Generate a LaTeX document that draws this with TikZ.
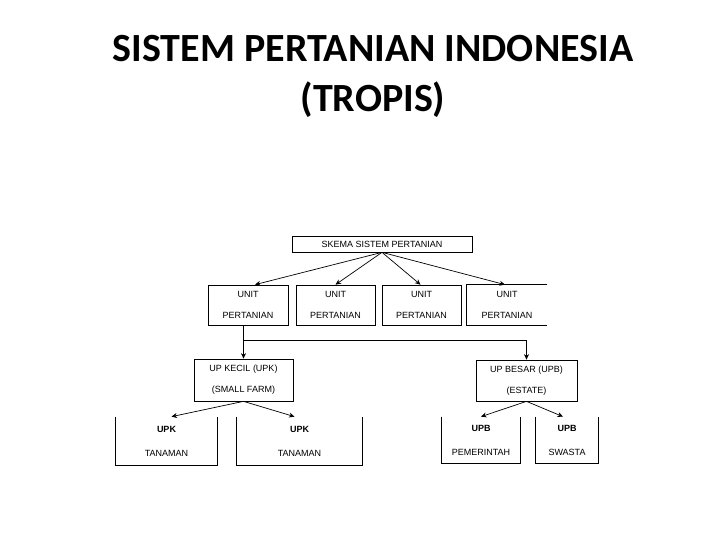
\documentclass[tikz,border=0pt]{standalone}
\usepackage{fontspec}
\setmainfont{Liberation Sans}
\newfontfamily\titlefont{Carlito}
\usetikzlibrary{calc,arrows.meta}
\begin{document}
\begin{tikzpicture}[x=1pt,y=-1pt,
  line width=0.7pt,
  txt/.style={inner sep=0pt, align=center, font=\fontsize{9}{21}\selectfont},
  box/.style={txt, draw},
  lowbox/.style={txt, font=\fontsize{9}{24}\selectfont, minimum height=48pt},
  arr/.style={-{Stealth[length=5.5pt,width=5pt]}},
  ttl/.style={inner sep=0pt, anchor=base, font=\titlefont\bfseries\fontsize{40}{48}\selectfont}]
\useasboundingbox (0,0) rectangle (720,540);
\fill[white] (0,0) rectangle (720,540);

% title
\node[ttl] (t1) at (373,62) {SISTEM PERTANIAN INDONESIA};
\node[ttl] (t2) at (373,112) {(TROPIS)};

% top box
\node[box, minimum width=180pt, minimum height=16pt] (skema) at (382,244) {SKEMA SISTEM PERTANIAN};

% second row
\node[box, minimum width=80pt, minimum height=40pt] (u1) at (248,305) {UNIT\\PERTANIAN};
\node[box, minimum width=79pt, minimum height=40pt] (u2) at (335.5,305) {UNIT\\PERTANIAN};
\node[box, minimum width=79pt, minimum height=40pt] (u3) at (421.5,305) {UNIT\\PERTANIAN};
\node[txt, minimum width=80pt, minimum height=40pt] (u4) at (507,305) {UNIT\\PERTANIAN};
\draw (u4.north east) -- (u4.north west) -- (u4.south west) -- (u4.south east);

\foreach \t/\s in {u1/7,u2/0,u3/-1,u4/-2}
  \draw[arr] (skema.south) -- ($(\t.north)+(\s,0)$);

% third row
\node[box, minimum width=99pt, minimum height=42pt] (upk) at (243.5,380) {UP KECIL (UPK)\\(SMALL FARM)};
\node[box, minimum width=101pt, minimum height=41pt] (upb) at (526.5,380.5) {UP BESAR (UPB)\\(ESTATE)};

\coordinate (j) at (upk.north |- 0,340);
\draw[arr] (u1.south -| upk.north) -- (upk.north);
\draw[arr] (j) -| (upb.north);

% bottom row (open-top boxes)
\node[lowbox, minimum width=101pt] (k1) at (166.5,441) {\textbf{UPK}\\TANAMAN};
\node[lowbox, minimum width=125pt] (k2) at (299.5,441) {\textbf{UPK}\\TANAMAN};
\node[lowbox, minimum width=78pt, minimum height=46pt] (b1) at (481,440) {\textbf{UPB}\\PEMERINTAH};
\node[lowbox, minimum width=62pt, minimum height=46pt] (b2) at (567,440) {\textbf{UPB}\\SWASTA};
\foreach \b in {k1,k2,b1,b2}
  \draw (\b.north west) -- (\b.south west) -- (\b.south east) -- (\b.north east);

\draw[arr] (upk.south) -- ($(k1.north)+(5,0)$);
\draw[arr] (upk.south) -- ($(k2.north)+(-5,0)$);
\draw[arr] (upb.south) -- (b1.north);
\draw[arr] (upb.south) -- ($(b2.north)+(-4,0)$);
\end{tikzpicture}
\end{document}
